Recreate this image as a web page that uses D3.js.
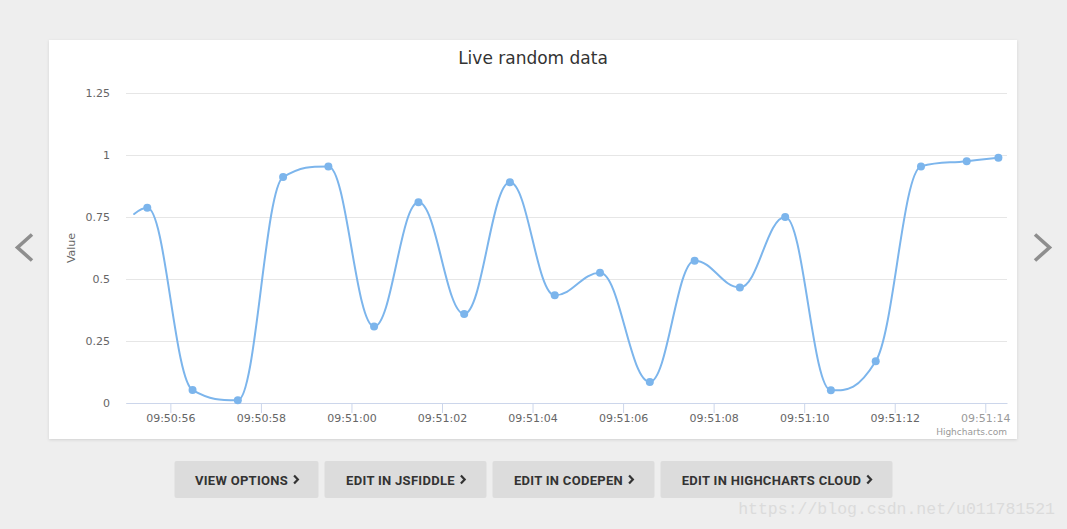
<!DOCTYPE html>
<html><head><meta charset="utf-8">
<script src="https://cdn.jsdelivr.net/npm/d3@7"></script>
<style>html,body{margin:0;padding:0;background:#eeeeee;overflow:hidden} svg{display:block}</style>
</head><body><svg id="c" width="1067" height="529"></svg>
<script>
// ---- data ----
const chartTitle = "Live random data";
const yAxisTitle = "Value";
// seconds after 09:50:00 (first entry is the point being shifted out, drawn without marker)
const seconds = [55.20, 55.49, 56.49, 57.49, 58.49, 59.49, 60.50, 61.48, 62.49, 63.50, 64.49,
                 65.49, 66.59, 67.58, 68.58, 69.58, 70.59, 71.58, 72.58, 73.59, 74.29];
const values  = [0.762, 0.787, 0.052, 0.011, 0.911, 0.954, 0.308, 0.809, 0.359, 0.890, 0.434,
                 0.525, 0.085, 0.574, 0.466, 0.750, 0.051, 0.168, 0.954, 0.975, 0.989];
const xDomainSeconds = [55.02, 74.48];
const yTicks = [0, 0.25, 0.5, 0.75, 1, 1.25];
const yTickLabels = ["0", "0.25", "0.5", "0.75", "1", "1.25"];
const buttonLabels = ["VIEW OPTIONS", "EDIT IN JSFIDDLE", "EDIT IN CODEPEN", "EDIT IN HIGHCHARTS CLOUD"];
const buttonWidths = [144, 162, 162, 232];
const creditsText = "Highcharts.com";
const watermarkText = "https://blog.csdn.net/u011781521";

// ---- layout ----
const W = 1067, H = 529;
const card = {x: 49, y: 40, w: 968, h: 399};
const plot = {left: 126, right: 1007, top: 93, bottom: 403};
const base = new Date(2018, 5, 1, 9, 50, 0).getTime();
const toDate = s => new Date(base + s * 1000);

const svg = d3.select("#c");
const defs = svg.append("defs");
const f = defs.append("filter").attr("id", "sh").attr("x", "-5%").attr("y", "-5%").attr("width", "110%").attr("height", "115%");
f.append("feDropShadow").attr("dx", 0).attr("dy", 1).attr("stdDeviation", 1.5).attr("flood-color", "#000").attr("flood-opacity", 0.12);

svg.append("rect").attr("width", W).attr("height", H).attr("fill", "#eeeeee");
svg.append("rect").attr("x", card.x).attr("y", card.y).attr("width", card.w).attr("height", card.h)
  .attr("fill", "#ffffff").attr("filter", "url(#sh)");

const x = d3.scaleTime().domain(xDomainSeconds.map(toDate)).range([plot.left, plot.right]);
const y = d3.scaleLinear().domain([0, 1.25]).range([plot.bottom, plot.top]);

const font = "'DejaVu Sans', 'Lucida Sans Unicode', Verdana, sans-serif";

// title
svg.append("text").attr("x", card.x + card.w / 2).attr("y", 64).attr("text-anchor", "middle")
  .attr("font-family", font).attr("font-size", 17).attr("fill", "#333333").text(chartTitle);

// grid + y labels
const yAxis = d3.axisLeft(y).tickValues(yTicks).tickSize(-(plot.right - plot.left)).tickPadding(16)
  .tickFormat((d, i) => yTickLabels[i]);
const gy = svg.append("g").attr("transform", `translate(${plot.left},0)`).call(yAxis);
gy.select(".domain").remove();
gy.selectAll(".tick line").attr("stroke", "#e6e6e6").attr("stroke-width", 1);
gy.selectAll(".tick text").attr("font-family", font).attr("font-size", 11).attr("fill", "#666666");

// x axis
const xAxis = d3.axisBottom(x).ticks(d3.timeSecond.every(2)).tickFormat(d3.timeFormat("%H:%M:%S"))
  .tickSize(10).tickPadding(1.5).tickSizeOuter(0);
const gx = svg.append("g").attr("transform", `translate(0,${plot.bottom})`).call(xAxis);
gx.select(".domain").attr("stroke", "#ccd6eb");
gx.selectAll(".tick line").attr("stroke", "#ccd6eb");
const xt = gx.selectAll(".tick text").attr("font-family", font).attr("font-size", 11).attr("fill", "#666666");
// newest label is still fading in
d3.select(xt.nodes()[xt.size() - 1]).attr("fill", "#9a9a9a");

// y axis title
svg.append("text").attr("transform", `translate(75,${(plot.top + plot.bottom) / 2}) rotate(-90)`)
  .attr("text-anchor", "middle").attr("font-family", font).attr("font-size", 11).attr("fill", "#666666")
  .text(yAxisTitle);

// spline (Highcharts-style control points)
const pts = seconds.map((s, i) => ({px: x(toDate(s)), py: y(values[i])}));
function splinePath(P) {
  const p = d3.path();
  const sm = 1.5, den = sm + 1;
  let prevRX = null, prevRY = null;
  P.forEach((pt, i) => {
    if (i === 0) { p.moveTo(pt.px, pt.py); prevRX = null; return; }
    const last = P[i - 1], next = P[i + 1];
    let lcx = pt.px, lcy = pt.py, rcx = null, rcy = null;
    if (last && next) {
      lcx = (sm * pt.px + last.px) / den; lcy = (sm * pt.py + last.py) / den;
      rcx = (sm * pt.px + next.px) / den; rcy = (sm * pt.py + next.py) / den;
      let corr = 0;
      if (rcx !== lcx) corr = ((rcy - lcy) * (rcx - pt.px)) / (rcx - lcx) + pt.py - rcy;
      lcy += corr; rcy += corr;
      if (lcy > last.py && lcy > pt.py) { lcy = Math.max(last.py, pt.py); rcy = 2 * pt.py - lcy; }
      else if (lcy < last.py && lcy < pt.py) { lcy = Math.min(last.py, pt.py); rcy = 2 * pt.py - lcy; }
      if (rcy > next.py && rcy > pt.py) { rcy = Math.max(next.py, pt.py); lcy = 2 * pt.py - rcy; }
      else if (rcy < next.py && rcy < pt.py) { rcy = Math.min(next.py, pt.py); lcy = 2 * pt.py - rcy; }
    }
    const c1x = prevRX !== null ? prevRX : last.px, c1y = prevRX !== null ? prevRY : last.py;
    p.bezierCurveTo(c1x, c1y, lcx, lcy, pt.px, pt.py);
    prevRX = rcx; prevRY = rcy;
  });
  return p.toString();
}
svg.append("path").attr("d", splinePath(pts)).attr("fill", "none").attr("stroke", "#7cb5ec")
  .attr("stroke-width", 2).attr("stroke-linejoin", "round").attr("stroke-linecap", "round");

svg.append("g").selectAll("circle").data(seconds.map((s, i) => ({s, v: values[i], i})).filter(d => d.i > 0))
  .join("circle").attr("cx", d => x(toDate(d.s))).attr("cy", d => y(d.v)).attr("r", 4).attr("fill", "#7cb5ec");

// credits
svg.append("text").attr("x", plot.right).attr("y", 435).attr("text-anchor", "end")
  .attr("font-family", font).attr("font-size", 9).attr("fill", "#999999").text(creditsText);

// side arrows
svg.append("path").attr("d", "M32,234.5 L17.5,247.5 L32,260.5").attr("fill", "none").attr("stroke", "#8e8e8e").attr("stroke-width", 3.6);
svg.append("path").attr("d", "M1035,234.5 L1049.5,247.5 L1035,260.5").attr("fill", "none").attr("stroke", "#8e8e8e").attr("stroke-width", 3.6);

// buttons
const gap = 6;
const total = d3.sum(buttonWidths) + gap * (buttonWidths.length - 1);
let bx = (W - total) / 2;
buttonLabels.forEach((lab, i) => {
  const g = svg.append("g").attr("transform", `translate(${bx},461)`);
  g.append("rect").attr("width", buttonWidths[i]).attr("height", 37).attr("rx", 2).attr("fill", "#dcdcdc");
  const t = g.append("text").attr("x", buttonWidths[i] / 2 - 5).attr("y", 23.5).attr("text-anchor", "middle")
    .attr("font-family", "Roboto, sans-serif").attr("font-weight", "bold").attr("font-size", 13)
    .attr("letter-spacing", 0.3).attr("fill", "#333333").text(lab);
  const tw = t.node().getComputedTextLength();
  const cx = buttonWidths[i] / 2 - 5 + tw / 2 + 6;
  g.append("path").attr("d", `M${cx},14.5 L${cx + 3.8},18.5 L${cx},22.5`).attr("fill", "none")
    .attr("stroke", "#333333").attr("stroke-width", 2.2);
  bx += buttonWidths[i] + gap;
});

// watermark
svg.append("text").attr("x", 1055).attr("y", 514).attr("text-anchor", "end")
  .attr("font-family", "'Liberation Mono', monospace").attr("font-size", 16.5).attr("fill", "#dbdbdb")
  .text(watermarkText);
</script></body></html>
